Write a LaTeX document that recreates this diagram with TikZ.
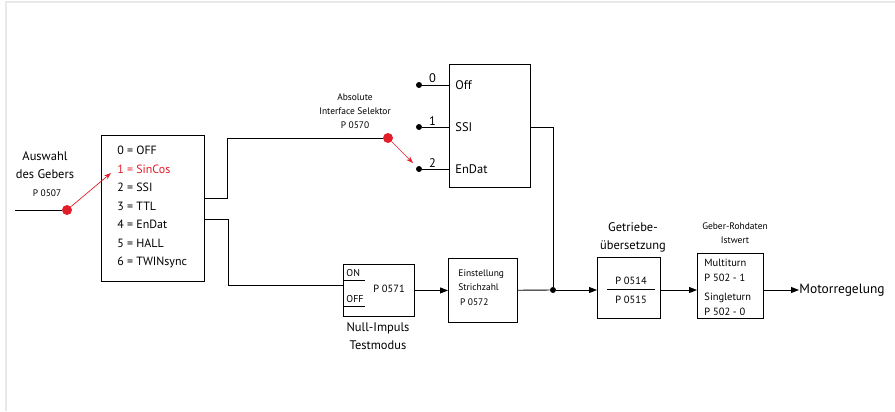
\documentclass[tikz,border=0pt]{standalone}
\usepackage{fontspec}
\setmainfont{PT Sans}
\usetikzlibrary{arrows.meta,positioning,calc}
\definecolor{selred}{RGB}{226,30,40}
\definecolor{framegray}{RGB}{232,232,232}

\begin{document}
\begin{tikzpicture}[x=1bp, y=-1bp, line width=0.9bp, font=\fontsize{12.5}{18}\selectfont, blk/.style={draw, inner sep=0pt, anchor=north west}, small/.style={font=\fontsize{9.5}{14}\selectfont, align=center, inner sep=0pt}, lbl/.style={align=center, inner sep=0pt}, dot/.style={circle, fill, inner sep=0pt, minimum size=6bp}, reddot/.style={circle, fill=selred, inner sep=0pt, minimum size=10bp}, arr/.style={-{Triangle[length=8bp,width=6bp]}}, redarr/.style={selred, line width=0.7bp, -{Stealth[length=7bp,width=5bp]}}]
\useasboundingbox (0,0) rectangle (895,411);
\draw[framegray, line width=2bp] (6,411) -- (6,2) -- (895,2);

% Geberauswahl
\node[lbl] (ausw) at (45,165) {Auswahl\\des Gebers};
\node[small] (p0507) at (47,193) {P 0507};
\coordinate (in) at (15,210);
\node[reddot] (sw0507) at (67,210) {};
\node[blk, minimum width=103bp, minimum height=146bp] (sel) at (101,135) {};
\node[anchor=north west, align=left, inner sep=0pt, font=\fontsize{12}{18.5}\selectfont] (list) at (117,146) {0 = OFF\\\textcolor{selred}{1 = SinCos}\\2 = SSI\\3 = TTL\\4 = EnDat\\5 = HALL\\6 = TWINsync};
\coordinate (sincos) at (111,173);
\draw (in) -- (sw0507);
\draw[redarr] (sw0507) -- (sincos);

% Absolute Interface Selektor
\node[small] (ais) at (355,111) {Absolute\\Interface Selektor\\P 0570};
\node[reddot] (sw0570) at (388,138) {};
\node[dot] (c0) at (419,85) {};
\node[dot] (c1) at (419,127) {};
\node[dot] (c2) at (419,169) {};
\node[blk, minimum width=81bp, minimum height=123bp] (abs) at (449,64) {};
\foreach \n/\t in {0/Off,1/SSI,2/EnDat}{
  \draw (c\n) -- (c\n -| abs.west);
  \node[anchor=south, inner sep=1.5bp] at ($(c\n)!0.45!(c\n -| abs.west)$) {\n};
  \node[anchor=west, inner sep=0pt] at ($(c\n -| abs.west)+(6,0)$) {\t};
}
\coordinate (selA) at (204,198);
\draw (selA) -- ++(23,0) |- (sw0570);
\coordinate (endat) at (413,163);
\draw[redarr] (sw0570) -- (endat);

% Null-Impuls
\node[blk, minimum width=71bp, minimum height=52bp] (null) at (343,264) {};
\node[anchor=base west, inner sep=0pt, font=\fontsize{10}{12}\selectfont] (on) at (346,276) {ON};
\node[anchor=base west, inner sep=0pt, font=\fontsize{10}{12}\selectfont] (off) at (346,302) {OFF};
\draw[line width=0.7bp] (null.west |- 0,280) -- (365,280);
\draw[line width=0.7bp] (null.west |- 0,306) -- (365,306);
\node[inner sep=0pt, font=\fontsize{10.5}{12}\selectfont] (p0571) at (389,289) {P 0571};
\node[lbl] (nulltxt) at (378,336) {Null-Impuls\\Testmodus};
\coordinate (selB) at (204,219);
\coordinate (nullin) at (343,285);
\draw (selB) -- ++(24,0) |- (nullin);

% Strichzahl
\node[blk, minimum width=69bp, minimum height=64bp] (strich) at (448,258) {};
\node[anchor=west, align=left, inner sep=0pt, font=\fontsize{9.5}{14}\selectfont] (strtxt) at (458,288) {Einstellung\\Strichzahl\\[1bp] \,P 0572};
\draw[arr] (null) -- (strich);
\node[dot] (jn) at (553,290) {};
\draw (abs.east |- c1) -| (jn);
\draw (strich) -- (jn);

% Getriebe
\node[lbl] (getrtxt) at (633,237) {Getriebe-\\übersetzung};
\node[blk, minimum width=63bp, minimum height=61bp] (getr) at (597,257) {};
\node[inner sep=0pt, font=\fontsize{10.5}{12}\selectfont] (p0514) at (631,281) {P 0514};
\node[inner sep=0pt, font=\fontsize{10.5}{12}\selectfont] (p0515) at (631,300) {P 0515};
\draw[line width=0.8bp] (607,289.5) -- (655,289.5);
\draw[arr] (jn) -- (jn -| getr.west);

% Geber-Rohdaten
\node[small] (gebtxt) at (735,233) {Geber-Rohdaten\\Istwert};
\node[blk, minimum width=66bp, minimum height=65bp] (geber) at (697,253) {};
\node[anchor=west, align=left, inner sep=0pt, font=\fontsize{10.5}{15}\selectfont] (gebval) at (704,287) {Multiturn\\P 502 - 1\\[4bp]Singleturn\\P 502 - 0};
\draw[arr] (getr.east |- jn) -- (geber.west |- jn);

% Ausgang
\node[anchor=west, inner sep=0pt, font=\fontsize{13.5}{16}\selectfont] (motor) at (799,290) {Motorregelung};
\draw[arr] (geber.east |- jn) -- (motor.west);
\end{tikzpicture}
\end{document}
